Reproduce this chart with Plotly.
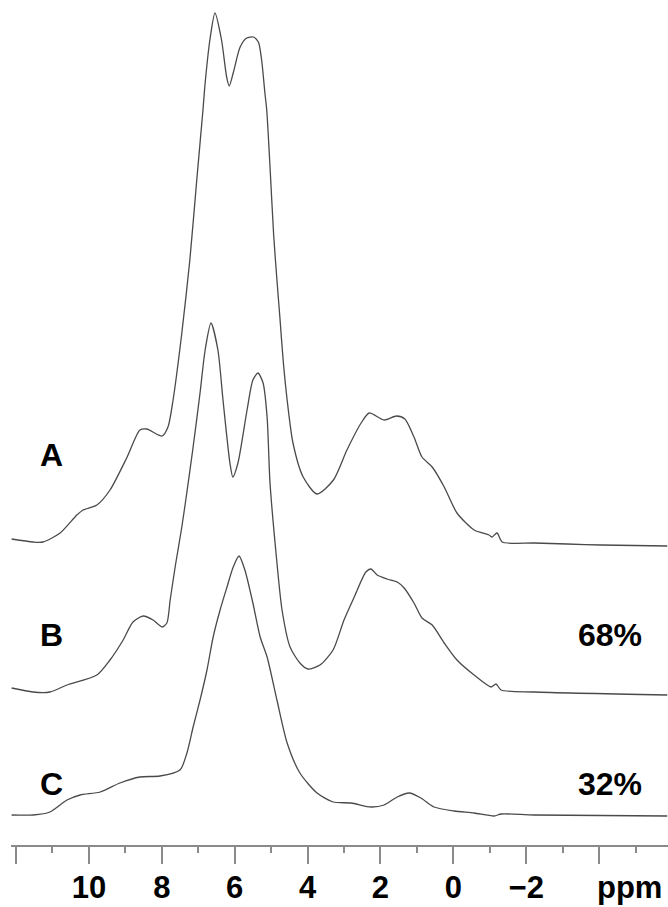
import plotly.graph_objects as go

# ---- data (chemical shift in ppm, intensity in arbitrary units) ----
ppm_A = [12.12, 11.53, 11.26, 10.79, 10.33, 10.16, 9.78, 9.42, 8.95, 8.60, 8.41, 7.99, 7.83, 7.69,
         7.45, 7.23, 7.04, 6.87, 6.81, 6.68, 6.54, 6.36, 6.22, 6.15, 6.04, 5.85, 5.67, 5.49,
         5.35, 5.26, 5.17, 5.12, 5.03, 4.93, 4.84, 4.76, 4.67, 4.56, 4.40, 4.12, 3.74, 3.29, 2.92,
         2.53, 2.31, 1.90, 1.56, 1.33, 1.08, 0.86, 0.58, 0.25, -0.10, -0.57, -0.98, -1.06, -1.20,
         -1.34, -2.22, -3.12, -4.05, -5.87]
int_A = [6, 3, 3, 12, 30, 35, 40, 55, 88, 115, 116, 109, 118, 145,
         212, 285, 365, 435, 462, 505, 532, 505, 468, 459, 472, 498, 507, 508,
         503, 485, 452, 435, 378, 310, 265, 228, 185, 145, 102, 68, 51, 65, 95,
         122, 132, 125, 129, 126, 108, 88, 78, 58, 32, 15, 10, 8, 12,
         3, 2, 1, 0, -1]

ppm_B = [12.12, 11.53, 11.07, 10.60, 9.78, 9.42, 9.06, 8.79, 8.51, 8.24, 7.99, 7.86, 7.77, 7.62,
         7.45, 7.31, 7.14, 6.95, 6.81, 6.65, 6.46, 6.32, 6.13, 6.05, 5.91, 5.66, 5.50, 5.36, 5.22,
         5.11, 5.03, 4.86, 4.70, 4.48, 4.21, 3.99, 3.66, 3.30, 3.00, 2.72, 2.40, 2.26, 2.09, 1.82,
         1.54, 1.35, 1.08, 0.86, 0.58, 0.25, -0.10, -0.57, -1.04, -1.17, -1.31, -2.22, -5.87]
int_B = [4, 0, 0, 7, 17, 32, 52, 70, 76, 72, 65, 69, 92, 128,
         165, 200, 245, 299, 342, 369, 342, 292, 229, 215, 229, 282, 312, 319, 309,
         275, 209, 137, 82, 45, 29, 23, 27, 42, 72, 95, 120, 123, 117, 113,
         110, 104, 89, 74, 67, 49, 32, 17, 5, 8, 2, 0, -3]

ppm_C = [12.12, 11.53, 11.07, 10.60, 10.24, 9.69, 9.15, 8.60, 8.05, 7.50, 7.31, 7.14, 6.95, 6.76,
         6.59, 6.40, 6.21, 6.04, 5.88, 5.72, 5.50, 5.30, 5.11, 4.84, 4.56, 4.21, 3.74, 3.30, 2.81,
         2.26, 1.90, 1.54, 1.21, 0.89, 0.53, -0.02, -0.57, -1.12, -1.31, -2.22, -5.87]
int_C = [0, 0, 3, 15, 20, 23, 32, 38, 39, 45, 62, 88, 115, 145,
         178, 205, 228, 248, 259, 245, 212, 178, 158, 115, 72, 42, 22, 13, 12,
         8, 10, 18, 22, 17, 8, 4, 2, -1, 1, 0, -1]

spectra = [("A", ppm_A, int_A), ("B", ppm_B, int_B), ("C", ppm_C, int_C)]
percent_labels = {"B": "68%", "C": "32%"}

major_ticks = [12, 10, 8, 6, 4, 2, 0, -2, -4]
major_text = ["", "10", "8", "6", "4", "2", "0", "\u22122", ""]
minor_ticks = [11, 9, 7, 5, 3, 1, -1, -3, -5]
unit_label = "ppm"

# ---- layout constants ----
offsets = {"A": 300, "B": 153, "C": 30}
label_y = {"A": 390, "B": 210, "C": 61}
LINE = "#4a4a4a"
AXIS = "#8a8a8a"
FONT = "Liberation Sans, Arial, sans-serif"

fig = go.Figure()
for name, x, y in spectra:
    fig.add_trace(go.Scatter(
        x=x, y=[v + offsets[name] for v in y], mode="lines",
        line=dict(color=LINE, width=1.3, shape="spline", smoothing=0.7),
        showlegend=False, hoverinfo="skip"))
    fig.add_annotation(x=11.03, y=label_y[name], text=name, showarrow=False,
                       xanchor="center", yanchor="middle",
                       font=dict(family=FONT, size=32, color="black", weight="bold"))
    if name in percent_labels:
        fig.add_annotation(x=-4.29, y=label_y[name], text=percent_labels[name], showarrow=False,
                           xanchor="center", yanchor="middle",
                           font=dict(family=FONT, size=32, color="black", weight="bold"))

fig.add_annotation(x=-4.84, xref="x", y=-43 / 845, yref="paper", text=unit_label,
                   showarrow=False, xanchor="center", yanchor="middle",
                   font=dict(family=FONT, size=31, color="black", weight="bold"))

fig.update_xaxes(
    range=[12.137, -5.89], showgrid=False, zeroline=False, automargin=False,
    showline=True, linecolor=AXIS, linewidth=2,
    ticks="outside", tickvals=major_ticks, ticktext=major_text,
    ticklen=17, tickwidth=2, tickcolor=AXIS, ticklabelstandoff=-3,
    tickfont=dict(family=FONT, size=31, color="black", weight="bold"),
    minor=dict(tickvals=minor_ticks, ticks="outside", ticklen=6, tickwidth=2, tickcolor=AXIS),
)
fig.update_yaxes(range=[0, 845], visible=False, showgrid=False, zeroline=False, automargin=False)

fig.update_layout(
    width=668, height=907, autosize=False,
    margin=dict(l=11, r=0, t=0, b=62, pad=0, autoexpand=False),
    paper_bgcolor="white", plot_bgcolor="white",
)

fig.write_html("out.html", config={"displayModeBar": False},
               post_script="document.body.style.margin='0';document.body.style.overflow='hidden';")
